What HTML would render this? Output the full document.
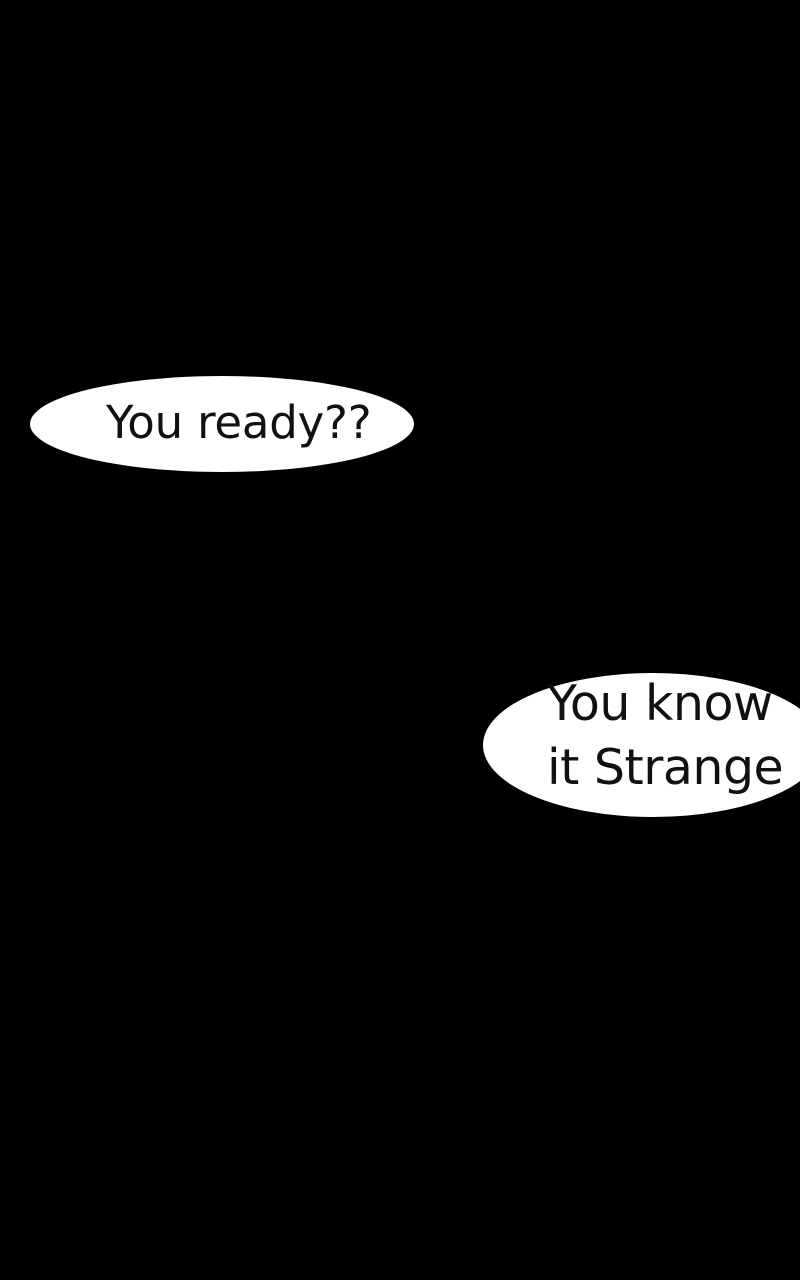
<!DOCTYPE html>
<html><head><style>
html,body{margin:0;padding:0;background:#000;width:800px;height:1280px;overflow:hidden;position:relative}
.b{position:absolute;background:#fff;border-radius:50%}
.t{position:absolute;font-family:"DejaVu Sans","Liberation Sans",sans-serif;color:#111;white-space:nowrap}
</style></head><body>
<div class="b" style="left:30px;top:376px;width:384px;height:96px"></div>
<div class="t" style="left:106px;top:397px;font-size:45px;line-height:52px;letter-spacing:-0.2px">You ready??</div>
<div class="b" style="left:483px;top:673px;width:340px;height:144px"></div>
<div class="t" style="left:547px;top:672px;font-size:49px;line-height:64px;letter-spacing:-0.5px">You know<br>it Strange</div>
</body></html>
